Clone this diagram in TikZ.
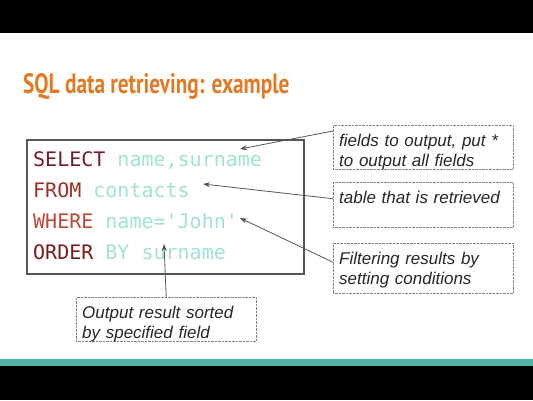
\documentclass[tikz,border=0pt]{standalone}
\usepackage{fontspec}
\setmainfont{Liberation Sans}
\setmonofont{DejaVu Sans Mono}
\newfontfamily\titlefont[FakeStretch=0.76]{PT Sans}
\usetikzlibrary{arrows.meta}
\usetikzlibrary{positioning}
\definecolor{titleorange}{RGB}{225,122,35}
\definecolor{kwselect}{RGB}{112,26,42}
\definecolor{kwfrom}{RGB}{158,46,36}
\definecolor{kwwhere}{RGB}{188,72,52}
\definecolor{kworder}{RGB}{122,26,26}
\definecolor{sqlval}{RGB}{160,226,211}
\definecolor{bandteal}{RGB}{78,180,164}
\definecolor{framegray}{RGB}{85,85,85}
\tikzset{
    codeline/.style={anchor=base west, inner sep=0pt, font=\ttfamily\fontsize{20}{22}\selectfont},
    note/.style={draw=gray, densely dotted, anchor=north west, inner xsep=6pt, inner ysep=0pt,
        text width=168pt, align=left, text height=21pt,
        font=\itshape\fontsize{17}{20}\selectfont, text=black!85},
    pointer/.style={draw=framegray, line width=0.8pt, -{Stealth[length=7pt,width=5pt]}},
}

\begin{document}
\begin{tikzpicture}[x=1pt, y=-1pt, >=stealth]

            \useasboundingbox (0,0) rectangle (533,400);

            % Slide bands
            \fill[black] (0,0) rectangle (533,33);
            \fill[bandteal] (0,359) rectangle (533,366);
            \fill[black] (0,366) rectangle (533,400);

            % Title
            \node[anchor=base west, inner sep=0pt, text=titleorange, font=\titlefont\bfseries\fontsize{28}{32}\selectfont] (title) at (23,93) {SQL data retrieving: example};

            % Query
            \node[draw=framegray, line width=1.1pt, minimum width=277pt, minimum height=134pt] (codebox) at (165.5,207) {};
            \node[codeline] (sel) at (33,166) {\textcolor{kwselect}{SELECT} \textcolor{sqlval}{name,surname}};
            \node[codeline] (from) at (33,197) {\textcolor{kwfrom}{FROM} \textcolor{sqlval}{contacts}};
            \node[codeline] (where) at (33,228) {\textcolor{kwwhere}{WHERE} \textcolor{sqlval}{name='John'}};
            \node[codeline] (order) at (33,259) {\textcolor{kworder}{ORDER} \textcolor{sqlval}{BY surname}};

            % Notes
            \node[note, text depth=23pt] (fieldsnote) at (333,125) {fields to output, put *\\to output all fields};
            \node[note, text depth=24pt] (tablenote) at (333,182) {table that is retrieved};
            \node[note, text depth=29pt] (filternote) at (333,243) {Filtering results by\\setting conditions};
            \node[note, text depth=23pt] (sortnote) at (76,297) {Output result sorted\\by specified field};

            % Pointers
            \coordinate (selend) at (240,149);
            \coordinate (fromend) at (203,184);
            \coordinate (whereend) at (240,218);
            \coordinate (orderend) at (164,244);
            \draw[pointer] ([yshift=-6pt]fieldsnote.north west) -- (selend);
            \draw[pointer] ([yshift=6pt]tablenote.west) -- (fromend);
            \draw[pointer] ([yshift=6pt]filternote.west) -- (whereend);
            \draw[pointer] (sortnote.north) -- (orderend);

        \end{tikzpicture}
\end{document}
